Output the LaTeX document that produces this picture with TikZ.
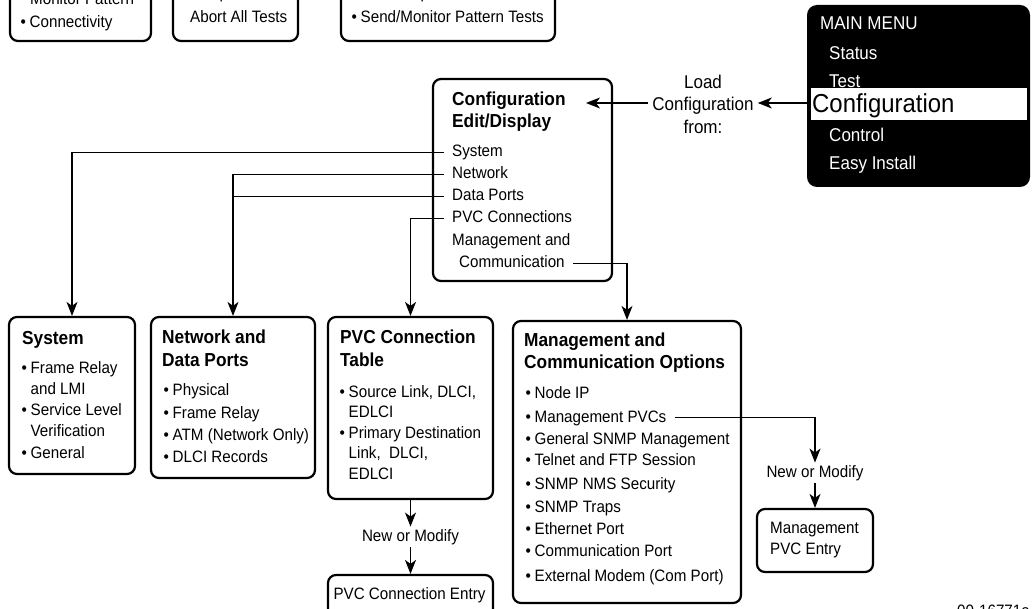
\documentclass[tikz,border=0pt]{standalone}
\usepackage{fontspec}
\setmainfont{Liberation Sans}[FakeStretch=0.92]
\usetikzlibrary{arrows.meta}

% type sizes for the menu tree
\newcommand\itemfont{\fontsize{16.5}{19}\selectfont}
\newcommand\titlefont{\bfseries\fontsize{18.8}{22}\selectfont}
\newcommand\menufont{\fontsize{18.5}{21}\selectfont}
% bullet and the matching indent for wrapped lines
\newcommand\bitem{\makebox[8.5pt][l]{\kern-0.5pt\textbullet}}
\newcommand\bindent{\hspace*{8.5pt}}

\begin{document}
\begin{tikzpicture}[x=1pt, y=-1pt,
  frame/.style={draw, line width=2.2pt, rounded corners=8pt, inner sep=0pt},
  txt/.style={font=\itemfont, inner sep=0pt, anchor=base west, text height=12pt, text depth=3.5pt},
  ttl/.style={font=\titlefont, inner sep=0pt, anchor=base west},
  mtxt/.style={font=\menufont, text=white, inner sep=0pt, anchor=base west},
  lbl/.style={font=\itemfont, inner sep=3pt, text height=11.5pt, text depth=3pt},
  link/.style={line width=1.1pt},
  arr/.style={link, -{Stealth[length=14pt, width=11pt, inset=4pt]}}]

\useasboundingbox (0,0) rectangle (1032,609);
\clip (0,0) rectangle (1032,609);

% ---- Test menu boxes (upper row)
\node[frame, minimum width=141pt, minimum height=81pt] (testA) at (80.5,0.5) {};
\node[txt] (testA1) at (30,4.5) {Monitor Pattern};
\node[txt] (testA2) at (21,27.5) {\bitem Connectivity};

\node[frame, minimum width=125pt, minimum height=81pt] (testB) at (235.5,0.5) {};
\node[txt] (testB1) at (190,-1) {Lamp Test};
\node[txt] (testB2) at (190,22.5) {Abort All Tests};

\node[frame, minimum width=214pt, minimum height=81pt] (testC) at (448,0.5) {};
\node[txt] (testC1) at (352,-1) {\bitem DTE Loopback};
\node[txt] (testC2) at (352,22.5) {\bitem Send/Monitor Pattern Tests};

% ---- Main menu
\node[fill=black, rounded corners=10pt, minimum width=223pt, minimum height=182pt, inner sep=0pt] (menu) at (918.5,96) {};
\node[fill=white, minimum width=216pt, minimum height=32pt, inner sep=0pt] (menuBar) at (919,104) {};
\node[mtxt] (mMain) at (820,29.6) {MAIN MENU};
\node[mtxt] (mStatus) at (829,59.6) {Status};
\node[mtxt] (mTest) at (829,87.6) {Test};
\node[font=\fontsize{26}{30}\selectfont, inner sep=0pt, anchor=base west] (mConf) at (812,112.3) {Configuration};
\node[mtxt] (mControl) at (829,141.6) {Control};
\node[mtxt] (mEasy) at (829,169.6) {Easy Install};

% ---- Load configuration
\node[font=\fontsize{18.5}{22.5}\selectfont, align=center, inner sep=4pt] (load) at (703,104) {Load\\Configuration\\from:};
\coordinate (cfgTip) at (586,103);
\draw[arr] (menu.west |- cfgTip) -- (load.east |- cfgTip);
\draw[arr] (load.west |- cfgTip) -- (cfgTip);

% ---- Configuration Edit/Display
\node[frame, minimum width=179pt, minimum height=202pt] (cfgBox) at (522.5,180) {};
\node[ttl] (cfgT1) at (452,105.8) {Configuration};
\node[ttl] (cfgT2) at (452,127.8) {Edit/Display};
\node[txt] (cSys) at (452,157) {System};
\node[txt] (cNet) at (452,179) {Network};
\node[txt] (cDP) at (452,201) {Data Ports};
\node[txt] (cPVC) at (452,223) {PVC Connections};
\node[txt] (cMgmt) at (452,246) {Management and};
\node[txt] (cComm) at (459,268) {Communication};

% ---- System
\node[frame, minimum width=126pt, minimum height=157pt] (sysBox) at (72,395.5) {};
\node[ttl] (sysT) at (22,344.8) {System};
\node[txt] (sys1) at (22,373) {\bitem Frame Relay};
\node[txt] (sys2) at (22,394) {\bindent and LMI};
\node[txt] (sys3) at (22,415) {\bitem Service Level};
\node[txt] (sys4) at (22,436) {\bindent Verification};
\node[txt] (sys5) at (22,458) {\bitem General};

% ---- Network and Data Ports
\node[frame, minimum width=164pt, minimum height=161pt] (netBox) at (233,397.5) {};
\node[ttl] (netT1) at (162,343.8) {Network and};
\node[ttl] (netT2) at (162,366.8) {Data Ports};
\node[txt] (net1) at (164,395) {\bitem Physical};
\node[txt] (net2) at (164,418) {\bitem Frame Relay};
\node[txt] (net3) at (164,440) {\bitem ATM (Network Only)};
\node[txt] (net4) at (164,462) {\bitem DLCI Records};

% ---- PVC Connection Table
\node[frame, minimum width=165pt, minimum height=182pt] (pvcBox) at (410.5,408) {};
\node[ttl] (pvcT1) at (340,343.8) {PVC Connection};
\node[ttl] (pvcT2) at (340,366.8) {Table};
\node[txt] (pvc1) at (340,397) {\bitem Source Link, DLCI,};
\node[txt] (pvc2) at (340,417) {\bindent EDLCI};
\node[txt] (pvc3) at (340,438) {\bitem Primary Destination};
\node[txt] (pvc4) at (340,458) {\bindent Link,\ \ DLCI,};
\node[txt] (pvc5) at (340,479) {\bindent EDLCI};

\node[lbl] (nm1) at (410.5,537) {New or Modify};
\node[frame, minimum width=165pt, minimum height=75pt] (pvcEntry) at (410.5,612.5) {};
\node[txt, anchor=base] (pvcEntryT) at (409.5,599) {PVC Connection Entry};

% ---- Management and Communication Options
\node[frame, minimum width=228pt, minimum height=282pt] (mgmtBox) at (627,462) {};
\node[ttl] (mgT1) at (524,346.8) {Management and};
\node[ttl] (mgT2) at (524,368.8) {Communication Options};
\node[txt] (mg1) at (526,398) {\bitem Node IP};
\node[txt] (mg2) at (526,422) {\bitem Management PVCs};
\node[txt] (mg3) at (526,444) {\bitem General SNMP Management};
\node[txt] (mg4) at (526,465) {\bitem Telnet and FTP Session};
\node[txt] (mg5) at (526,489) {\bitem SNMP NMS Security};
\node[txt] (mg6) at (526,512) {\bitem SNMP Traps};
\node[txt] (mg7) at (526,534) {\bitem Ethernet Port};
\node[txt] (mg8) at (526,556) {\bitem Communication Port};
\node[txt] (mg9) at (526,581) {\bitem External Modem (Com Port)};

\node[lbl] (nm2) at (815,473) {New or Modify};
\node[frame, minimum width=116pt, minimum height=63pt] (mgEntry) at (815,540.5) {};
\node[txt] (mgEntry1) at (770,533) {Management};
\node[txt] (mgEntry2) at (770,554) {PVC Entry};

% ---- drawing number
\node[txt] (figId) at (957,616.5) {00-16771a};

% ---- connectors
\draw[arr] ([xshift=-8pt]cSys.west) -| (sysBox.north);
\draw[arr] ([xshift=-8pt]cNet.west) -| (netBox.north);
\draw[link] ([xshift=-8pt]cDP.west) -- (cDP.west -| netBox.north);
\draw[arr] ([xshift=-8pt]cPVC.west) -| (pvcBox.north);
\draw[arr] ([xshift=8pt]cComm.east) -| (mgmtBox.north);

\draw[arr] (pvcBox.south) -- (nm1.north);
\draw[arr] (nm1.south) -- (pvcEntry.north);

\draw[arr] ([xshift=8pt]mg2.east) -| (nm2.north);
\draw[arr] (nm2.south) -- (mgEntry.north);
\end{tikzpicture}
\end{document}
